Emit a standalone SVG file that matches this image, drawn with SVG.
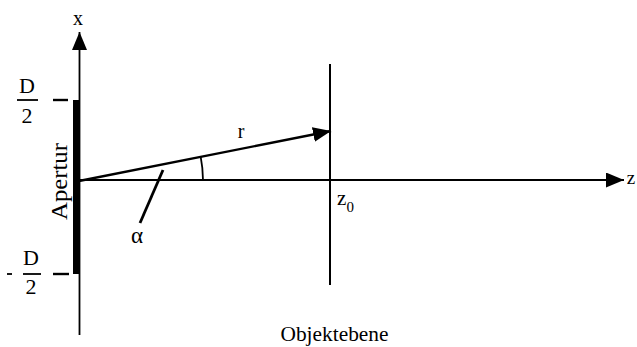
<svg xmlns="http://www.w3.org/2000/svg" width="637" height="347" viewBox="0 0 637 347">
<defs>
<marker id="ah" viewBox="0 0 18 15" refX="18" refY="7.5" markerWidth="18" markerHeight="15" markerUnits="userSpaceOnUse" orient="auto">
<path d="M0,0 L18,7.5 L0,15 Z" fill="#000"/>
</marker>
</defs>
<style>
text{font-family:"Liberation Serif","Times New Roman",serif;fill:#000}
.ln{stroke:#000;fill:none}
</style>
<rect width="637" height="347" fill="#fff"/>
<g id="connectors">
<line class="ln" x1="79.5" y1="335" x2="79.5" y2="32" stroke-width="1.8" marker-end="url(#ah)"/>
<line class="ln" x1="79" y1="180" x2="624" y2="180" stroke-width="1.8" marker-end="url(#ah)"/>
<line class="ln" x1="79" y1="181" x2="331" y2="131" stroke-width="2.4" marker-end="url(#ah)"/>
<path class="ln" d="M200.7,156.8 A124,124 0 0 1 203,180" stroke-width="1.8"/>
<line class="ln" x1="163" y1="170" x2="140" y2="223" stroke-width="2.8"/>
</g>
<g id="aperture">
<rect x="73" y="100" width="7" height="174" fill="#000"/>
<text transform="translate(67,181.5) rotate(-90)" text-anchor="middle" font-size="23" textLength="77" lengthAdjust="spacingAndGlyphs">Apertur</text>
</g>
<g id="upper-mark">
<line class="ln" x1="53" y1="100" x2="68" y2="100" stroke-width="2.4"/>
<text x="27" y="93" text-anchor="middle" font-size="22">D</text>
<line class="ln" x1="17" y1="100" x2="38" y2="100" stroke-width="1.8"/>
<text x="27" y="123" text-anchor="middle" font-size="22">2</text>
</g>
<g id="lower-mark">
<line class="ln" x1="53" y1="274" x2="69" y2="274" stroke-width="2.4"/>
<line class="ln" x1="7" y1="274" x2="12" y2="274" stroke-width="1.8"/>
<text x="31" y="265" text-anchor="middle" font-size="22">D</text>
<line class="ln" x1="23" y1="274" x2="41" y2="274" stroke-width="1.8"/>
<text x="31" y="294" text-anchor="middle" font-size="22">2</text>
</g>
<g id="object-plane">
<line class="ln" x1="330" y1="64" x2="330" y2="285" stroke-width="2"/>
<text x="334.5" y="341" text-anchor="middle" font-size="21" textLength="108" lengthAdjust="spacingAndGlyphs">Objektebene</text>
</g>
<g id="labels">
<text x="78" y="25" text-anchor="middle" font-size="20">x</text>
<text x="631" y="184" text-anchor="middle" font-size="19">z</text>
<text x="241" y="138" text-anchor="middle" font-size="20">r</text>
<text x="137" y="243" text-anchor="middle" font-size="23">α</text>
<text x="337" y="205" font-size="21">z</text>
<text x="346.5" y="212" font-size="15">0</text>
</g>
</svg>
